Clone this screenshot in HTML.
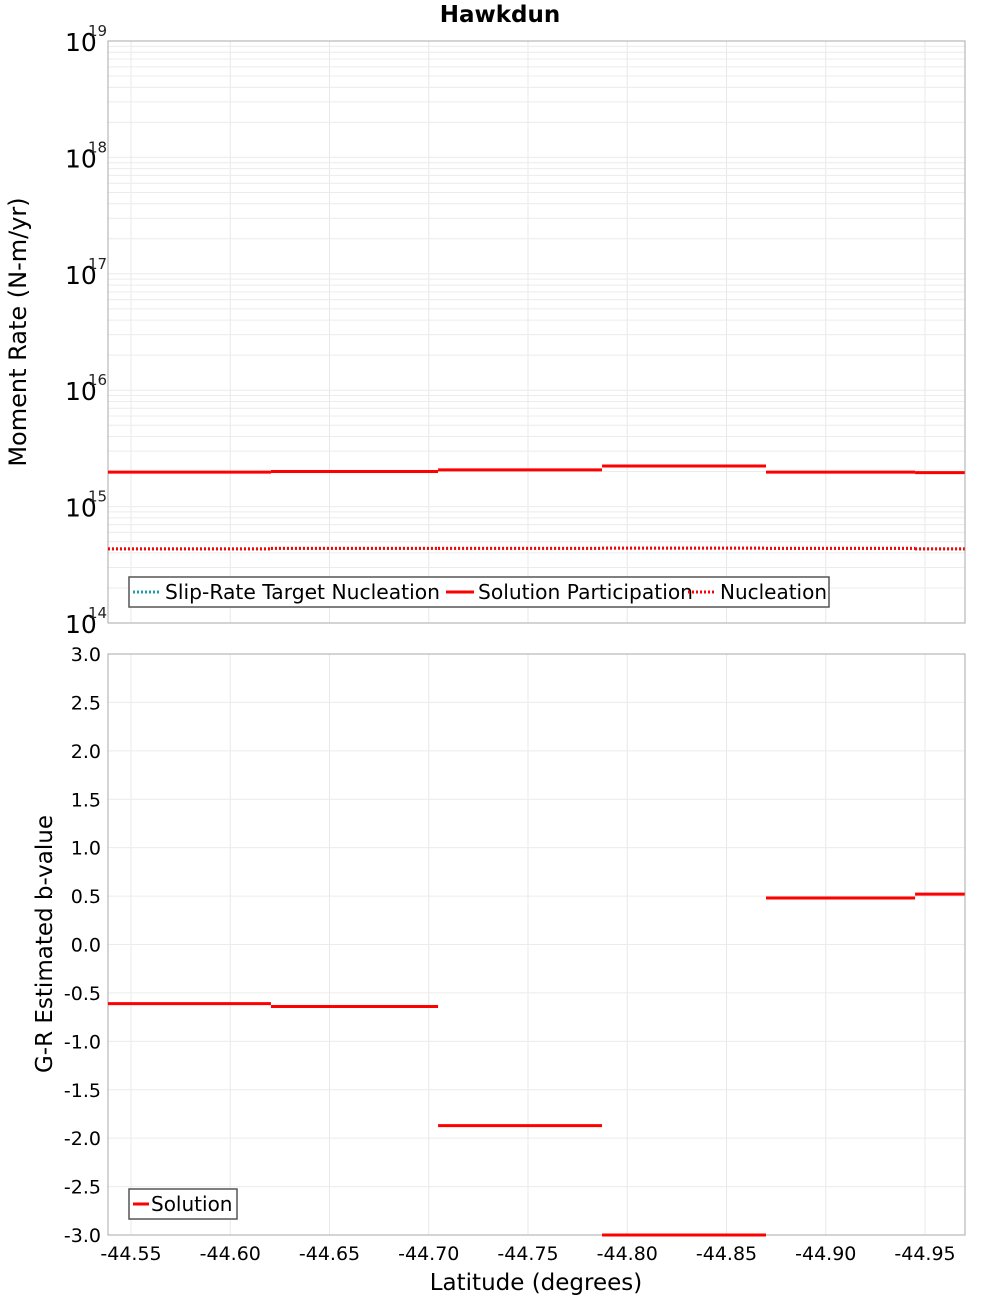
<!DOCTYPE html>
<html><head><meta charset="utf-8"><style>
body{margin:0;background:#fff;font-family:"Liberation Sans","DejaVu Sans",sans-serif}
svg text{font-family:"DejaVu Sans","Liberation Sans",sans-serif}
</style></head><body>
<svg id="c" width="1000" height="1300" xmlns="http://www.w3.org/2000/svg"></svg>
<script>
const edges=[-44.5384,-44.6205,-44.7047,-44.7873,-44.8699,-44.945,-44.970];
const participation=[1.98e15,2.0e15,2.07e15,2.23e15,1.98e15,1.96e15];
const nucleation=[4.33e14,4.38e14,4.38e14,4.4e14,4.38e14,4.33e14];
const target=[4.33e14,4.38e14,4.38e14,4.4e14,4.38e14,4.33e14];
const bvalues=[-0.61,-0.64,-1.87,-3.0,0.48,0.52];
const xTicks=[-44.55,-44.60,-44.65,-44.70,-44.75,-44.80,-44.85,-44.90,-44.95];
const bTicks=[3.0,2.5,2.0,1.5,1.0,0.5,0.0,-0.5,-1.0,-1.5,-2.0,-2.5,-3.0];
const logTicks=[14,15,16,17,18,19];

const L=108,R=965,T1=41,B1=623,T2=654,B2=1235;
const X=v=>131+(-44.55-v)*1985;
const Y1=v=>B1-(Math.log10(v)-14)*(B1-T1)/5;
const Y2=v=>B2-(v+3)*(B2-T2)/6;
const svg=document.getElementById('c');
const NS='http://www.w3.org/2000/svg';
function mk(tag,at,txt){const e=document.createElementNS(NS,tag);for(const k in at)e.setAttribute(k,at[k]);if(txt!=null)e.textContent=txt;svg.appendChild(e);return e;}

for(const t of xTicks){const x=X(t);
 let g=mk('line',{x1:x,x2:x,y1:T1,y2:B1,stroke:'#e8e8e8'});
 
 g=mk('line',{x1:x,x2:x,y1:T2,y2:B2,stroke:'#e8e8e8'});
 }
for(let d=14;d<19;d++)for(let m=1;m<10;m++){const y=Y1(m*Math.pow(10,d));
 const g=mk('line',{x1:L,x2:R,y1:y,y2:y,stroke:'#ececec'});
 }
for(const t of bTicks){const y=Y2(t);
 const g=mk('line',{x1:L,x2:R,y1:y,y2:y,stroke:'#ececec'});
 }

let f=mk('rect',{x:L,y:T1,width:R-L,height:B1-T1,fill:'none',stroke:'#aaa'});

f=mk('rect',{x:L,y:T2,width:R-L,height:B2-T2,fill:'none',stroke:'#aaa'});


function steps(arr,yf,style,name){for(let i=0;i<arr.length;i++){
 const y=yf(arr[i]);const s=mk('line',Object.assign({x1:X(edges[i]),x2:X(edges[i+1]),y1:y,y2:y},style));
 }}
steps(target,Y1,{stroke:'#20a0a8','stroke-width':3,'stroke-dasharray':'2,2'},'target-nucleation');
steps(nucleation,Y1,{stroke:'#ff0000','stroke-width':3,'stroke-dasharray':'2,2'},'nucleation');
steps(participation,Y1,{stroke:'#ff0000','stroke-width':3},'solution-participation');
steps(bvalues,Y2,{stroke:'#ff0000','stroke-width':3},'b-value');

for(const d of logTicks){const y=Y1(Math.pow(10,d));
 const t=mk('text',{x:65,y:y+10,'font-size':25,fill:'#000'},'10');
 
 const s=mk('text',{x:88,y:y-5,'font-size':15,fill:'#222'},String(d));
 }
for(const v of bTicks){const t=mk('text',{x:101,y:Y2(v)+7,'font-size':19,'text-anchor':'end',fill:'#000'},v.toFixed(1));
 }
for(const v of xTicks){const t=mk('text',{x:X(v),y:1260,'font-size':19,'text-anchor':'middle',fill:'#000'},v.toFixed(2));
 }

let t=mk('text',{x:500,y:22,'font-size':23,'font-weight':'bold','text-anchor':'middle'},'Hawkdun');

t=mk('text',{x:536,y:1290,'font-size':23,'text-anchor':'middle'},'Latitude (degrees)');

t=mk('text',{x:0,y:0,'font-size':24,'text-anchor':'middle',transform:'translate(26,332) rotate(-90)'},'Moment Rate (N-m/yr)');

t=mk('text',{x:0,y:0,'font-size':23,'text-anchor':'middle',transform:'translate(52,944) rotate(-90)'},'G-R Estimated b-value');


let lg=mk('rect',{x:129,y:577,width:700,height:30,fill:'#fff',stroke:'#555','stroke-width':1.5});

const items=[['Slip-Rate Target Nucleation','#20a0a8','2,2',133,275],['Solution Participation','#ff0000','',446,215],['Nucleation','#ff0000','2,2',688,107]];
for(const it of items){
 const ln=mk('line',{x1:it[3],x2:it[3]+28,y1:592,y2:592,stroke:it[1],'stroke-width':3,'stroke-dasharray':it[2]||'none'});
 
 const tx=mk('text',{x:it[3]+32,y:599,'font-size':20,textLength:it[4],lengthAdjust:'spacingAndGlyphs'},it[0]);
 }
lg=mk('rect',{x:129,y:1189,width:108,height:30,fill:'#fff',stroke:'#555','stroke-width':1.5});

let ln=mk('line',{x1:133,x2:149,y1:1204,y2:1204,stroke:'#ff0000','stroke-width':3});

t=mk('text',{x:151,y:1211,'font-size':20},'Solution');

</script>
</body></html>
